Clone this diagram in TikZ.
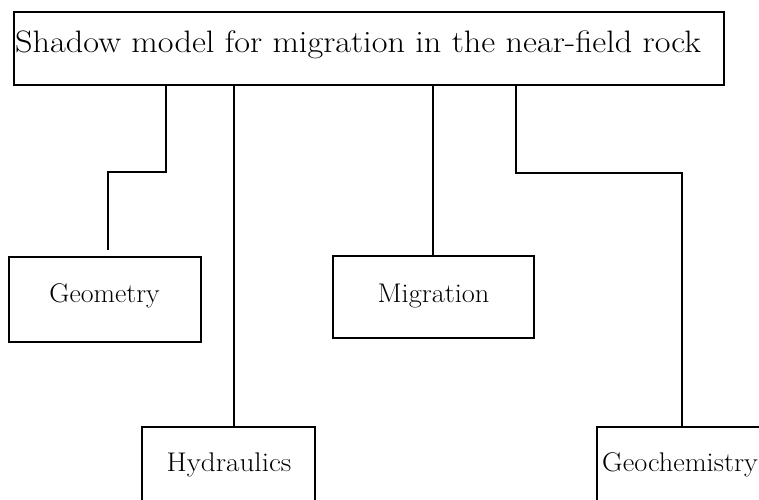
\documentclass[tikz,border=0pt]{standalone}
\usepackage{graphicx}
\newcommand\stretchtext[2]{\scalebox{#1}[1]{#2}}
\begin{document}
\begin{tikzpicture}[x=1pt, y=-1pt,
  box/.style={draw, line width=1.7pt, inner sep=0pt, anchor=north west},
  conn/.style={line width=1.7pt},
  lbl/.style={inner sep=0pt, anchor=base, font=\fontsize{27}{32}\selectfont},
  titlelbl/.style={inner sep=0pt, anchor=base west, font=\fontsize{31}{36}\selectfont}]
  \useasboundingbox (0,0) rectangle (759,499);
  \clip (0,0) rectangle (759,499);

  % boxes
  \node[box, minimum width=710pt, minimum height=73pt] (title) at (13,11) {};
  \node[box, minimum width=192pt, minimum height=85pt] (geom) at (8,256) {};
  \node[box, minimum width=201pt, minimum height=82pt] (migr) at (332,255) {};
  \node[box, minimum width=173pt, minimum height=85pt] (hydr) at (141,426) {};
  \node[box, minimum width=170pt, minimum height=85pt] (geoc) at (596,426) {};

  % labels, placed on their baselines
  \node[titlelbl] (titletext) at (15,52) {\stretchtext{1.105}{Shadow model for migration in the near-field rock}};
  \node[lbl] (geomtext) at (104.5,302) {\stretchtext{1.03}{Geometry}};
  \node[lbl] (migrtext) at (433.5,302) {\stretchtext{1.05}{Migration}};
  \node[lbl] (hydrtext) at (229,471) {\stretchtext{1.08}{Hydraulics}};
  \node[lbl, anchor=base west] (geoctext) at (602,471) {\stretchtext{1.05}{Geochemistry}};

  % bends of the connectors
  \coordinate (k1) at (166,172);
  \coordinate (k2) at (108,250);
  \coordinate (k3) at (234,300);
  \coordinate (k4) at (516,173);
  \coordinate (k5) at (433,200);

  % connectors
  \draw[conn] (title.south -| k1) -- (k1) -| (k2);
  \draw[conn] (title.south -| k3) -- (hydr.north -| k3);
  \draw[conn] (title.south -| k5) -- (migr.north -| k5);
  \draw[conn] (title.south -| k4) -- (k4) -| (geoc.north);
\end{tikzpicture}
\end{document}
